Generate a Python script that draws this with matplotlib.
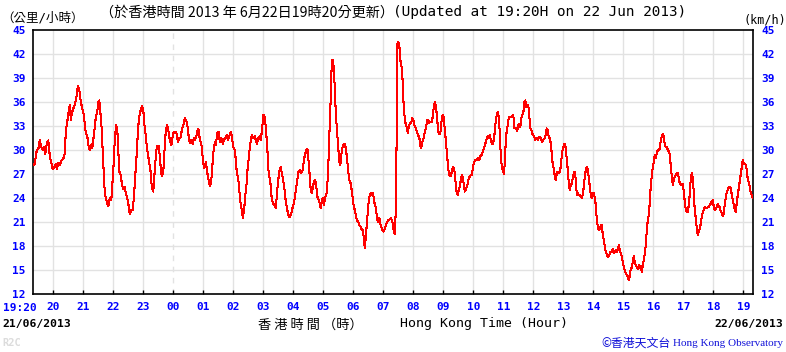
import matplotlib
matplotlib.use("Agg")
import matplotlib.pyplot as plt

# wind speed (km/h), time in minutes after 19:20 on 21/06/2013
t_min = [
    0, 3, 7, 10, 13, 17, 20, 22, 24, 27, 30, 33, 37, 39, 42, 45, 47, 50, 53, 57,
    60, 63, 65, 69, 71, 73, 75, 77, 80, 83, 87, 89, 92, 95, 98, 101, 103, 105, 108, 110,
    113, 117, 118, 120, 123, 125, 128, 130, 132, 133, 137, 139, 141, 143, 145, 148, 150, 153, 156, 158,
    160, 162, 164, 166, 168, 170, 172, 175, 177, 180, 183, 185, 188, 191, 193, 196, 199, 201, 203, 205,
    207, 209, 211, 213, 215, 217, 220, 222, 225, 227, 229, 232, 234, 236, 238, 240, 242, 244, 246, 248,
    251, 253, 255, 257, 260, 262, 264, 267, 269, 271, 273, 276, 279, 281, 284, 287, 289, 292, 295, 297,
    300, 303, 305, 307, 309, 311, 313, 316, 319, 321, 323, 327, 329, 331, 333, 336, 338, 340, 342, 345,
    347, 349, 352, 354, 356, 358, 360, 363, 365, 368, 371, 373, 376, 379, 381, 384, 387, 389, 392, 395,
    397, 400, 403, 405, 407, 409, 411, 413, 415, 417, 419, 421, 423, 425, 427, 429, 431, 433,
    437, 440, 443, 447, 450, 453, 455, 458, 460, 462, 465, 467, 469, 471, 473, 475, 477, 480, 483, 485,
    487, 489, 492, 495, 497, 499, 501, 503, 505, 508, 511, 513, 516, 519, 521, 523, 525, 528, 530, 533,
    535, 538, 540, 542, 545, 547, 549, 551, 553, 555, 557, 559, 561, 564, 566, 568, 571, 573, 575, 577,
    579, 581, 583, 585, 587, 589, 591, 593, 595, 597, 599, 601, 603, 605, 607, 609, 611, 613, 615, 617,
    620, 623, 625, 627, 629, 631, 633, 635, 637, 639, 641, 643, 645, 647, 650, 652, 655, 657, 659, 661,
    663, 665, 667, 669, 671, 673, 675, 677, 679, 681, 683, 685, 687, 689, 692, 694, 696, 698, 700, 702,
    704, 706, 708, 710, 712, 715, 717, 719, 721, 723, 725, 727, 728, 730, 732, 734, 737, 739, 741, 743,
    745, 747, 749, 751, 753, 756, 758, 760, 762, 764, 766, 769, 771, 773, 775, 777, 779, 781, 783, 785,
    788, 790, 792, 794, 797, 799, 801, 803, 805, 807, 809, 811, 813, 815, 817, 819, 821, 823, 825, 827,
    829, 831, 833, 835, 837, 839, 841, 843, 845, 847, 849, 851, 853, 855, 857, 859, 861, 863, 865, 867,
    869, 871, 873, 875, 877, 880, 882, 884, 887, 889, 892, 894, 897, 899, 901, 904, 906, 908, 911, 913,
    915, 917, 919, 921, 923, 925, 927, 929, 931,
    933, 935, 937, 939, 941, 943, 945, 947, 949, 951, 953, 955, 958, 960, 962, 964, 966, 968, 970, 972,
    974, 976, 978, 980, 982, 984, 986, 988, 990, 992, 994, 996, 998, 1000, 1002, 1004, 1007, 1009, 1012, 1015,
    1017, 1020, 1023, 1025, 1027, 1029, 1031, 1033, 1035, 1037, 1039, 1041, 1043, 1045, 1047, 1049, 1052, 1055, 1057, 1059,
    1061, 1063, 1065, 1067,
    1069, 1071, 1073, 1075, 1077, 1079, 1081, 1083, 1085, 1087, 1089, 1091, 1093, 1095, 1097, 1099, 1101, 1103, 1105, 1107,
    1109, 1111, 1113, 1115, 1117, 1119, 1121, 1123, 1125, 1127, 1129, 1131, 1133, 1135, 1137, 1139, 1141, 1143, 1145, 1147,
    1149, 1151, 1153, 1155, 1157, 1159, 1161, 1163, 1165, 1167, 1169, 1171, 1173, 1175, 1177, 1179, 1181, 1183, 1185, 1187,
    1189, 1191, 1193, 1195, 1197, 1199, 1201, 1203, 1205, 1207, 1209, 1211, 1213, 1215, 1217, 1219, 1221, 1223, 1225, 1227,
    1229, 1231, 1233, 1235, 1237, 1239, 1241, 1243, 1245, 1247, 1249, 1251, 1253, 1255, 1257, 1259, 1261, 1263, 1265, 1267,
    1269, 1271, 1273, 1275, 1277, 1279, 1281, 1283, 1285, 1287, 1289, 1291, 1293, 1295, 1297, 1299, 1301, 1303, 1305, 1307,
    1309, 1311, 1313, 1315, 1317, 1319, 1321, 1323, 1325, 1327, 1329, 1331, 1333, 1335, 1337, 1339, 1341, 1343, 1345, 1347,
    1349, 1351, 1353, 1355, 1357, 1359, 1361, 1363, 1365, 1367, 1369, 1371, 1373, 1375, 1377, 1379, 1381, 1383, 1385, 1387,
    1389, 1391, 1393, 1395, 1397, 1399, 1401, 1403, 1405, 1407, 1409, 1411, 1413, 1415, 1417, 1419, 1421, 1423, 1425, 1427,
    1429, 1431, 1433, 1435, 1437, 1439,
]
kmh = [
    28.1, 28.3, 30.0, 30.1, 31.2, 30.2, 30.0, 30.4, 29.5, 30.8, 31.2, 29.2, 28.1, 27.6, 27.9, 28.3, 27.6, 28.4, 28.1, 28.75,
    28.9, 29.6, 32.3, 34.0, 35.0, 35.6, 33.75, 34.6, 35.2, 35.6, 36.9, 38.0, 37.5, 36.0, 35.2, 34.4, 33.3, 32.1, 31.75, 30.6,
    30.0, 30.8, 30.2, 31.25, 32.9, 34.1, 34.8, 36.0, 36.2, 35.6, 32.5, 29.4, 26.9, 24.6, 24.0, 23.3, 23.0, 24.0, 23.75, 25.6,
    27.5, 30.2, 32.1, 33.1, 32.5, 30.0, 27.3, 26.9, 25.8, 25.1, 25.4, 24.6, 24.0, 22.9, 22.0, 22.5, 22.5, 24.0, 25.8, 27.9,
    29.6, 32.1, 33.75, 34.6, 35.0, 35.5, 35.0, 33.3, 31.75, 30.4, 29.6, 28.3, 27.7, 26.0, 25.2, 24.8, 26.7, 28.3, 30.0, 30.5,
    30.5, 29.2, 27.7, 26.7, 27.3, 29.6, 31.7, 33.1, 32.9, 32.1, 31.25, 30.6, 31.75, 32.3, 32.3, 32.0, 31.0, 31.5, 31.6, 32.5,
    33.1, 34.0, 33.75, 33.5, 32.7, 31.5, 30.9, 31.25, 30.8, 31.5, 31.25, 31.9, 32.6, 32.5, 31.25, 30.8, 29.6, 28.3, 27.7, 28.5,
    27.7, 26.7, 25.8, 25.5, 26.25, 27.9, 29.6, 31.0, 30.6, 32.1, 32.3, 31.0, 31.5, 30.8, 31.25, 31.5, 31.9, 31.25, 31.7, 32.3,
    31.7, 30.4, 30.0, 28.75, 27.1, 26.7, 25.8, 24.2, 23.1, 22.5, 21.5, 22.3, 23.5, 25.0, 26.0, 28.1, 28.9, 30.4,
    31.9, 31.5, 31.7, 30.8, 31.5, 31.7, 31.25, 32.9, 34.4, 34.4, 32.9, 31.0, 29.2, 26.7, 26.5, 25.4, 23.75, 23.3, 23.1, 22.7,
    24.2, 25.8, 27.3, 27.9, 27.1, 26.5, 25.6, 24.8, 23.5, 22.5, 21.7, 21.6, 22.1, 22.9, 23.3, 24.0, 25.0, 26.25, 27.3, 27.5,
    27.1, 27.3, 28.1, 29.0, 29.8, 30.1, 30.0, 28.1, 26.7, 24.8, 24.6, 25.2, 26.0, 26.25, 25.4, 24.2, 23.75, 23.3, 22.7, 23.75,
    24.0, 23.1, 23.75, 24.4, 24.6, 26.7, 29.6, 33.5, 36.7, 41.25, 41.25, 40.2, 37.7, 34.6, 32.7, 31.0, 29.4, 28.1, 28.5, 30.0,
    30.6, 30.8, 30.2, 29.2, 27.9, 26.7, 26.0, 25.8, 24.8, 23.75, 22.9, 22.5, 21.9, 21.25, 21.0, 20.6, 20.4, 20.0, 20.0, 19.0,
    17.7, 19.2, 20.6, 22.1, 23.75, 24.4, 24.6, 24.4, 24.6, 24.0, 23.1, 22.9, 21.7, 21.0, 21.5, 20.8, 20.4, 20.0, 19.8, 20.0,
    20.4, 20.8, 21.0, 21.25, 21.25, 21.5, 21.25, 20.8, 19.8, 19.5, 22.5, 33.3, 43.3, 43.5, 43.1, 41.25, 40.2, 38.3, 35.0, 34.0,
    33.1, 32.9, 32.1, 32.9, 33.3, 33.5, 34.0, 33.75, 33.1, 32.9, 32.5, 31.9, 31.7, 31.25, 30.2, 30.6, 31.25, 31.5, 32.3, 32.7,
    33.75, 33.8, 33.4, 33.5, 33.5, 34.2, 35.4, 36.0, 35.6, 34.4, 32.9, 32.0, 32.0, 32.5, 34.0, 34.4, 34.0, 32.5, 31.25, 29.8,
    28.3, 27.1, 26.7, 26.7, 27.3, 27.9, 27.7, 27.1, 25.6, 24.6, 24.4, 25.0, 25.4, 26.25, 26.9, 26.5, 25.6, 24.8, 25.0, 25.4,
    25.8, 26.5, 26.7, 26.9, 26.9, 28.1, 28.5, 28.75, 28.75, 29.0, 28.75, 29.2, 29.4, 29.8, 30.2, 30.8, 31.25, 31.7, 31.5, 31.9,
    31.25, 30.8, 30.8, 31.25, 32.3, 33.75, 34.4, 34.8, 34.0,
    32.1, 29.2, 27.9, 27.5, 27.0, 28.3, 31.25, 32.5, 33.1, 34.1, 34.1, 34.1, 34.25, 34.4, 32.7, 32.8, 32.6, 32.4, 33.1, 33.3,
    32.9, 34.0, 34.4, 34.6, 36.0, 36.2, 35.4, 35.4, 35.6, 34.25, 32.7, 32.5, 32.0, 31.9, 31.6, 31.25, 31.5, 31.25, 31.6, 31.5,
    31.0, 31.25, 31.5, 32.0, 32.7, 32.5, 31.5, 31.5, 30.8, 29.4, 28.1, 27.7, 26.7, 26.25, 27.1, 27.3, 27.1, 27.9, 29.4, 30.2,
    30.6, 30.8, 30.2, 28.75,
    27.5, 25.8, 25.0, 25.6, 25.8, 26.5, 27.1, 27.3, 26.25, 24.4, 24.6, 24.4, 24.4, 24.2, 24.0, 24.4, 25.4, 26.7, 27.5, 27.9,
    27.5, 26.5, 25.4, 24.4, 24.0, 24.6, 24.6, 24.0, 23.1, 21.25, 20.4, 20.0, 20.2, 20.6, 20.6, 19.4, 18.75, 17.9, 17.3, 16.9,
    16.6, 16.7, 17.1, 17.3, 17.3, 17.6, 17.1, 17.3, 17.5, 17.2, 17.5, 18.1, 17.5, 17.1, 16.7, 16.0, 15.4, 14.9, 14.6, 14.4,
    14.2, 13.7, 14.2, 15.2, 15.3, 16.0, 16.7, 16.0, 15.6, 15.4, 15.1, 15.6, 15.2, 15.5, 14.8, 15.6, 16.25, 17.1, 18.1, 20.0,
    21.25, 21.9, 23.5, 25.6, 26.7, 27.9, 28.5, 29.4, 29.0, 29.6, 30.0, 30.0, 30.2, 31.25, 31.75, 32.0, 31.7, 30.6, 30.4, 30.4,
    30.0, 29.8, 29.4, 27.9, 26.7, 25.6, 26.25, 26.7, 26.9, 27.1, 27.1, 26.5, 25.8, 25.6, 25.8, 25.8, 24.8, 23.5, 22.5, 22.2,
    22.3, 23.1, 24.6, 26.5, 27.1, 26.5, 24.6, 22.3, 21.5, 20.2, 19.4, 19.8, 20.2, 20.8, 21.7, 22.2, 22.5, 22.9, 22.7, 22.7,
    22.9, 22.9, 23.1, 23.3, 23.6, 23.7, 22.9, 22.5, 22.7, 22.9, 23.25, 22.9, 22.9, 22.3, 22.1, 21.7, 22.1, 23.3, 24.0, 24.8,
    25.0, 25.4, 25.4, 25.2, 24.4, 23.75, 23.1, 22.5, 22.3, 23.5, 24.4, 25.4, 26.25, 27.1, 27.9, 28.75, 28.3, 28.3, 28.1, 27.5,
    26.25, 26.0, 25.4, 24.6, 24.4, 24.0,
]

hour_ticks = list(range(40, 1440, 60))
hour_labels = ["%02d" % ((20 + i) % 24) for i in range(len(hour_ticks))]
midnight = 280
y_ticks = list(range(12, 46, 3))

blue = "#0000ff"
grid_c = "#e2e2e2"
cjk = ["DejaVu Sans Mono", "Noto Sans CJK TC"]

fig = plt.figure(figsize=(7.86, 3.52), dpi=100)
ax = fig.add_axes([33.3 / 786, 58 / 352, 720 / 786, 264 / 352])

# grid
for x in hour_ticks:
    if x == midnight:
        ax.axvline(x, color=grid_c, lw=1, ls=(0, (4, 4)), zorder=1)
    else:
        ax.axvline(x, color=grid_c, lw=1, zorder=1)
for y in y_ticks[1:-1]:
    ax.axhline(y, color=grid_c, lw=1, zorder=1)

ax.plot(t_min, kmh, color="#ff0000", lw=0.75, zorder=3, antialiased=False)

ax.set_xlim(0, 1440)
ax.set_ylim(12, 45)
ax.set_xticks(hour_ticks)
ax.set_xticklabels(hour_labels)
ax.set_yticks(y_ticks)
ax.tick_params(axis="x", direction="in", length=3.2, width=1, color="black", pad=6,
               labelcolor=blue, labelsize=8)
ax.tick_params(axis="y", length=0, pad=5.5, labelcolor=blue, labelsize=8,
               left=True, right=True, labelleft=True, labelright=True)
for lab in ax.get_xticklabels() + ax.get_yticklabels():
    lab.set_fontfamily("DejaVu Sans Mono")
    lab.set_fontweight("bold")
for t in ax.yaxis.get_major_ticks():
    t.label2.set_fontfamily("DejaVu Sans Mono")
    t.label2.set_fontweight("bold")
for sp in ax.spines.values():
    sp.set_linewidth(1.2)
    sp.set_color("black")

ax.annotate("19:20", xy=(0, 0), xycoords=("data", "axes fraction"),
            xytext=(-10, -6.3), textcoords="offset points", ha="center", va="top",
            color=blue, fontsize=8, fontweight="bold", family="DejaVu Sans Mono")

# header texts
fig.text(1 / 786, 1 - 18 / 352, "（公里/小時）", family=cjk, fontsize=9, va="center")
fig.text(100 / 786, 1 - 13 / 352, "（於香港時間 2013 年 6月22日19時20分更新）",
         family=["Noto Sans CJK TC"], fontsize=10.2, va="center")
fig.text(393 / 786, 1 - 12 / 352, "(Updated at 19:20H on 22 Jun 2013)",
         family="DejaVu Sans Mono", fontsize=10.4, va="center")
fig.text(786 / 786, 1 - 20 / 352, "(km/h)", family="DejaVu Sans Mono",
         fontsize=8.5, va="center", ha="right")

# footer texts
fig.text(2 / 786, 1 - 324 / 352, "21/06/2013", family="DejaVu Sans Mono",
         fontweight="bold", fontsize=8.2, va="center")
fig.text(783 / 786, 1 - 324 / 352, "22/06/2013", family="DejaVu Sans Mono",
         fontweight="bold", fontsize=8.2, va="center", ha="right")
fig.text(258 / 786, 1 - 325 / 352, "香 港 時 間 （時）", family=["Noto Sans CJK TC"],
         fontsize=9.5, va="center")
fig.text(400 / 786, 1 - 324 / 352, "Hong Kong Time (Hour)", family="DejaVu Sans Mono",
         fontsize=9.5, va="center")
fig.text(2 / 786, 1 - 343 / 352, "R2C", family="DejaVu Sans Mono", fontweight="bold",
         fontsize=7.5, va="center", color="#dcdcdc")
fig.text(671 / 786, 1 - 343 / 352, "©香港天文台", family=["Noto Sans CJK TC"],
         fontsize=8.6, va="center", ha="right", color="#1010d8")
fig.text(673 / 786, 1 - 343 / 352, "Hong Kong Observatory", family="Liberation Serif",
         fontsize=8.0, va="center", ha="left", color="#1010d8")

fig.savefig("out.png", dpi=100)
